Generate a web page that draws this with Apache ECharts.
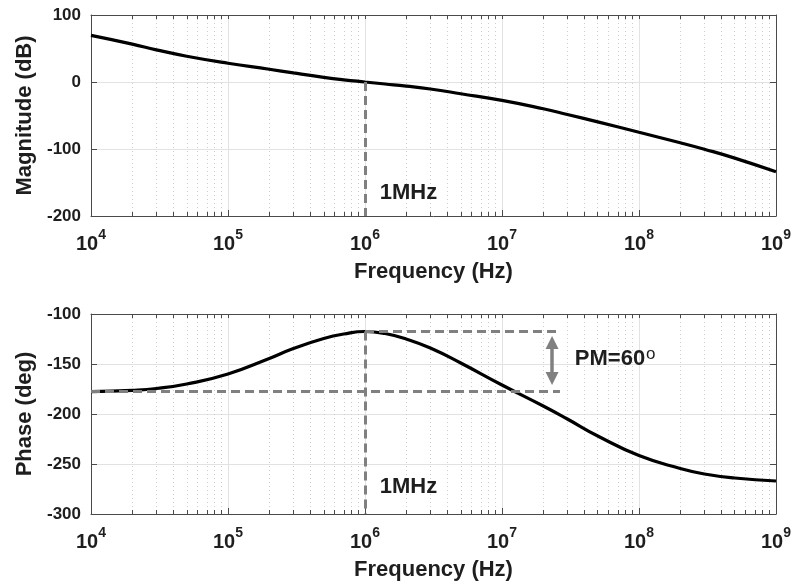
<!DOCTYPE html>
<html>
<head>
<meta charset="utf-8">
<title>Bode plot</title>
<script src="https://cdn.jsdelivr.net/npm/echarts@6/dist/echarts.min.js"></script>
<style>
  html, body { margin: 0; padding: 0; background: #ffffff; }
  #chart { width: 794px; height: 586px; }
</style>
</head>
<body>
<div id="chart"></div>
<script>
// Open-loop response samples
const freqHz = [1e4, 2e4, 3e4, 5e4, 1e5, 2e5, 3e5, 5e5, 7e5, 1e6, 1.4e6, 2e6, 3e6, 5e6, 1e7, 2e7, 3e7, 5e7, 1e8, 2e8, 3e8, 5e8, 1e9];
const magnitudeDb = [69.5, 56.5, 48, 38.5, 28, 19, 13.5, 7, 3.3, 0, -3, -6.2, -10.5, -17.5, -27.5, -40, -48.5, -59.5, -75, -90.6, -100.3, -113.6, -134];
const phaseDeg = [-177.7, -176.3, -174.5, -170, -160, -144.5, -134.5, -124.5, -120, -117.5, -119.5, -125, -134, -149, -171, -192, -205, -222, -241.5, -254.5, -260, -264, -267];

// Axis ranges and tick labels
const decadeTicks = [1e4, 1e5, 1e6, 1e7, 1e8, 1e9];
const magRange = { min: -200, max: 100, interval: 100 };
const phaseRange = { min: -300, max: -100, interval: 50 };

// Crossover annotation
const crossoverHz = 1e6;
const crossoverDb = 0;
const crossoverPhase = -117.5;
const phaseMarginDeg = 60;
const pmLineEndHz = 2.65e7;
const pmArrowHz = 2.32e7;
const pmArrowSpan = [-128.5, -164.5];
const freqLabel = '1MHz';
const freqLabelPos = { hz: 1.28e6, db: -166, deg: -272.5 };
const pmLabelPos = { hz: 3.4e7, deg: -143.5 };

// Minor ticks 2..9 inside each decade
const minorTicks = [];
for (let i = 0; i < decadeTicks.length - 1; i++) {
  for (let k = 2; k <= 9; k++) minorTicks.push(decadeTicks[i] * k);
}
const allTicks = decadeTicks.concat(minorTicks);

const FONT = '"Liberation Sans", Arial, Helvetica, sans-serif';
const TEXT = '#1e1e1e';
const BOX = '#4a4a4a';
const GRID_MAJOR = '#e2e2e2';
const GRID_MINOR = '#cdcdcd';
const ANNOT = '#808080';

function xAxes(gridIndex) {
  const base = {
    type: 'log', logBase: 10, gridIndex: gridIndex,
    min: decadeTicks[0], max: decadeTicks[decadeTicks.length - 1]
  };
  return [
    Object.assign({}, base, {
      position: 'bottom',
      name: 'Frequency (Hz)', nameLocation: 'middle', nameGap: 45,
      nameTextStyle: { fontFamily: FONT, fontWeight: 'bold', fontSize: 22, color: TEXT },
      axisLine: { show: true, onZero: false, lineStyle: { color: BOX, width: 1 } },
      axisTick: { show: true, inside: true, length: 6, customValues: decadeTicks, lineStyle: { color: BOX } },
      axisLabel: {
        show: true, customValues: decadeTicks, margin: 12,
        formatter: function (v) { return '{b|10}{s|' + Math.round(Math.log10(v)) + '}'; },
        rich: {
          b: { fontFamily: FONT, fontWeight: 'bold', fontSize: 20, color: TEXT, lineHeight: 26, verticalAlign: 'bottom' },
          s: { fontFamily: FONT, fontWeight: 'bold', fontSize: 14, color: TEXT, verticalAlign: 'top' }
        }
      },
      splitLine: { show: true, lineStyle: { color: GRID_MAJOR, width: 1 } }
    }),
    Object.assign({}, base, {
      position: 'bottom',
      axisLine: { show: false, onZero: false },
      axisTick: { show: true, inside: true, length: 4, customValues: minorTicks, lineStyle: { color: BOX } },
      axisLabel: { show: false },
      splitLine: { show: true, lineStyle: { color: GRID_MINOR, width: 1, type: [1, 3] } }
    }),
    Object.assign({}, base, {
      position: 'top',
      axisLine: { show: true, onZero: false, lineStyle: { color: BOX, width: 1 } },
      axisTick: { show: true, inside: true, length: 4, customValues: allTicks, lineStyle: { color: BOX } },
      axisLabel: { show: false },
      splitLine: { show: false }
    })
  ];
}

function yAxes(gridIndex, range, name) {
  const base = { type: 'value', gridIndex: gridIndex, min: range.min, max: range.max, interval: range.interval };
  return [
    Object.assign({}, base, {
      position: 'left',
      name: name, nameLocation: 'middle', nameGap: 51,
      nameTextStyle: { fontFamily: FONT, fontWeight: 'bold', fontSize: 22, color: TEXT },
      axisLine: { show: true, onZero: false, lineStyle: { color: BOX, width: 1 } },
      axisTick: { show: true, inside: true, length: 6, lineStyle: { color: BOX } },
      axisLabel: { margin: 10, fontFamily: FONT, fontWeight: 'bold', fontSize: 17, color: TEXT },
      splitLine: { show: true, lineStyle: { color: GRID_MAJOR, width: 1 } }
    }),
    Object.assign({}, base, {
      position: 'right',
      axisLine: { show: true, onZero: false, lineStyle: { color: BOX, width: 1 } },
      axisTick: { show: true, inside: true, length: 6, lineStyle: { color: BOX } },
      axisLabel: { show: false },
      splitLine: { show: false }
    })
  ];
}

const dashStyle = { color: ANNOT, width: 3, type: [9, 5] };
const textLabel = { fontFamily: FONT, fontWeight: 'bold', fontSize: 22, color: TEXT };

const pmLow = crossoverPhase - phaseMarginDeg;

const option = {
  animation: false,
  backgroundColor: '#ffffff',
  grid: [
    { left: 91, right: 15, top: 15, height: 201 },
    { left: 91, right: 15, top: 314, height: 200 }
  ],
  xAxis: xAxes(0).concat(xAxes(1)),
  yAxis: yAxes(0, magRange, 'Magnitude (dB)').concat(yAxes(1, phaseRange, 'Phase (deg)')),
  series: [
    {
      name: 'Magnitude', type: 'line', xAxisIndex: 0, yAxisIndex: 0,
      data: freqHz.map(function (f, i) { return [f, magnitudeDb[i]]; }),
      showSymbol: false, smooth: 0.5, z: 3,
      lineStyle: { color: '#000000', width: 3.2 },
      markLine: {
        silent: true, symbol: 'none', label: { show: false }, lineStyle: dashStyle,
        data: [[{ coord: [crossoverHz, crossoverDb] }, { coord: [crossoverHz, magRange.min] }]]
      },
      markPoint: {
        silent: true, symbol: 'circle', symbolSize: 0,
        label: Object.assign({ show: true, position: 'right', distance: 0, formatter: freqLabel }, textLabel),
        data: [{ coord: [freqLabelPos.hz, freqLabelPos.db] }]
      }
    },
    {
      name: 'Phase', type: 'line', xAxisIndex: 3, yAxisIndex: 2,
      data: freqHz.map(function (f, i) { return [f, phaseDeg[i]]; }),
      showSymbol: false, smooth: 0.5, z: 3,
      lineStyle: { color: '#000000', width: 3.2 },
      markLine: {
        silent: true, symbol: 'none', label: { show: false }, lineStyle: dashStyle,
        data: [
          [{ coord: [crossoverHz, crossoverPhase] }, { coord: [crossoverHz, phaseRange.min] }],
          [{ coord: [crossoverHz, crossoverPhase] }, { coord: [pmLineEndHz, crossoverPhase] }],
          [{ coord: [decadeTicks[0], pmLow] }, { coord: [pmLineEndHz, pmLow] }]
        ]
      },
      markPoint: {
        silent: true, symbol: 'circle', symbolSize: 0,
        data: [
          {
            coord: [freqLabelPos.hz, freqLabelPos.deg],
            label: Object.assign({ show: true, position: 'right', distance: 0, formatter: freqLabel }, textLabel)
          },
          {
            coord: [pmLabelPos.hz, pmLabelPos.deg],
            label: {
              show: true, position: 'right', distance: 0,
              formatter: '{t|PM=' + phaseMarginDeg + '}{o|o}',
              rich: {
                t: { fontFamily: FONT, fontWeight: 'bold', fontSize: 22, color: TEXT, lineHeight: 24, verticalAlign: 'bottom' },
                o: { fontFamily: FONT, fontWeight: 'normal', fontSize: 17, color: TEXT, verticalAlign: 'top', padding: [0, 0, 0, 1] }
              }
            }
          }
        ]
      }
    },
    {
      name: 'PM arrow', type: 'line', xAxisIndex: 3, yAxisIndex: 2, data: [], z: 4,
      markLine: {
        silent: true, symbol: ['triangle', 'triangle'], symbolSize: 13,
        label: { show: false },
        lineStyle: { color: ANNOT, width: 3.5, type: 'solid' },
        itemStyle: { color: ANNOT },
        data: [[{ coord: [pmArrowHz, pmArrowSpan[0]] }, { coord: [pmArrowHz, pmArrowSpan[1]] }]]
      }
    }
  ]
};

const chart = echarts.init(document.getElementById('chart'), null, { renderer: 'canvas' });
chart.setOption(option);
</script>
</body>
</html>
